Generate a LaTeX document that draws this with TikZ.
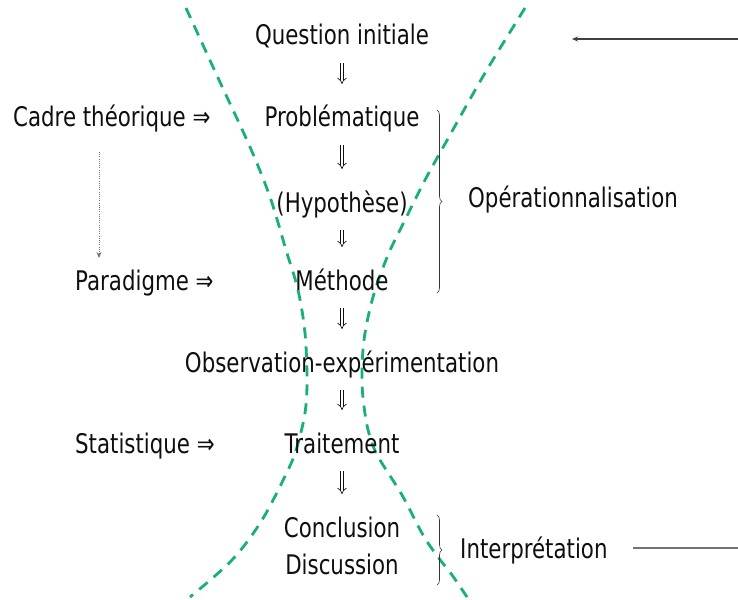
\documentclass[tikz,border=0pt]{standalone}
\usepackage{fontspec}
\setmainfont{DejaVu Sans}[FakeStretch=0.79]
\usetikzlibrary{arrows.meta,decorations.pathreplacing}
\definecolor{dashgreen}{RGB}{25,175,125}
\definecolor{inkcol}{RGB}{15,15,15}
\tikzset{
  lbl/.style={inner sep=0pt, font=\fontsize{27}{32}\selectfont, text=inkcol},
  dnarrow/.style={draw=inkcol, double, double distance=2.6pt, line width=0.65pt, -{Implies[scale=2]}},
  bracestyle/.style={draw=black!80, line width=0.6pt, decorate, decoration={brace, amplitude=5pt}},
  greendash/.style={draw=dashgreen, line width=2.8pt, dash pattern=on 11pt off 8pt},
  dotarrow/.style={draw=black!55, line width=1pt, dash pattern=on 1pt off 1.2pt, -{Stealth[length=6pt,width=5pt]}},
  toparrow/.style={draw=black!75, line width=1.2pt, -{Stealth[length=6pt,width=5pt]}},
  backline/.style={draw=black!55, line width=1.4pt}
}
\begin{document}
\begin{tikzpicture}[x=1pt,y=-1pt]
\useasboundingbox (0,0) rectangle (738,599);
\fill[white] (0,0) rectangle (738,599);

% green dashed hourglass
\draw[greendash] plot[smooth, tension=0.55] coordinates {(186,8) (219,80) (250,147) (270,197) (286,250) (298,290) (305,333) (307,380) (305,413) (297,447) (288,470) (262,520) (232,560) (190,597)};
\draw[greendash] plot[smooth, tension=0.55] coordinates {(525,8) (485,73) (450,135) (425,180) (405,220) (388,255) (373,297) (364,340) (362,383) (366,420) (372,443) (380,460) (402,495) (423,535) (438,557) (452,575) (467,597)};

% central column
\node[lbl, anchor=base] (q) at (342,45) {Question initiale};
\node[lbl, anchor=base] (p) at (342,127) {Problématique};
\node[lbl, anchor=base] (h) at (342,212) {(Hypothèse)};
\node[lbl, anchor=base] (m) at (342,290) {Méthode};
\node[lbl, anchor=base] (o) at (342,372) {Observation-expérimentation};
\node[lbl, anchor=base] (t) at (342,453) {Traitement};
\node[lbl, anchor=base] (c) at (342,537) {Conclusion};
\node[lbl, anchor=base] (d) at (342,574) {Discussion};

% left column
\node[lbl, anchor=base west] (cadre) at (13,127) {Cadre théorique ⇒};
\node[lbl, anchor=base west] (para) at (75,290) {Paradigme ⇒};
\node[lbl, anchor=base west] (stat) at (75,453) {Statistique ⇒};

% right labels
\node[lbl, anchor=base west] (oper) at (468,207) {Opérationnalisation};
\node[lbl, anchor=base west] (interp) at (460,558) {Interprétation};

% down double arrows
\foreach \a/\b in {q/p, p/h, h/m, m/o, o/t, t/c}
  \draw[dnarrow] ([yshift=-18pt]\a.base) -- ([yshift=43pt]\b.base);

% dotted arrow cadre -> paradigme
\coordinate (d1) at (99,152);
\coordinate (d2) at (99,258);
\draw[dotarrow] (d1) -- (d2);

% braces
\coordinate (b1t) at (437,110);
\coordinate (b1b) at (437,293);
\draw[bracestyle] (b1t) -- (b1b);
\coordinate (b2t) at (437,515);
\coordinate (b2b) at (437,585);
\draw[bracestyle] (b2t) -- (b2b);

% return arrows
\coordinate (ra) at (738,39);
\coordinate (rb) at (572,39);
\draw[toparrow] (ra) -- (rb);
\coordinate (le) at (738,548);
\draw[backline] ([xshift=25pt,yshift=10pt]interp.base east) -- (le);
\end{tikzpicture}
\end{document}
